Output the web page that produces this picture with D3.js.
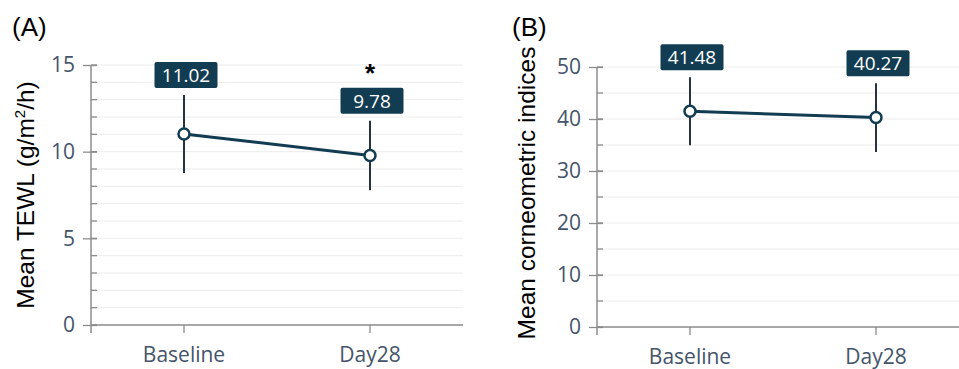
<!DOCTYPE html>
<html>
<head>
<meta charset="utf-8">
<script src="https://cdn.jsdelivr.net/npm/d3@7"></script>
<style>
  body { margin: 0; background: #fff; }
  svg text { font-family: "Open Sans", "Noto Sans", sans-serif; }
</style>
</head>
<body>
<svg id="chart" width="959" height="369"></svg>
<script>
// data
var categories = ["Baseline", "Day28"];
var tewlMean = [11.02, 9.78];
var tewlSd = [2.25, 2.0];
var cornMean = [41.48, 40.27];
var cornSd = [6.55, 6.6];
var tewlTicks = [0, 5, 10, 15];
var cornTicks = [0, 10, 20, 30, 40, 50];

var navy = "#123c52",
  tickText = "#44546a",
  axisGray = "#8c8c8c",
  gridGray = "#ececec";

var svg = d3.select("#chart");

function panel(opt) {
  var g = svg.append("g");

  var x = d3.scaleBand().domain(categories).range([opt.x0, opt.x1]);
  var y = d3.scaleLinear().domain([0, opt.max]).range([opt.yb, opt.yt]);

  // gridlines
  g.selectAll("line.grid")
    .data(d3.range(0, opt.max + 0.001, opt.minor))
    .enter().append("line")
    .attr("x1", opt.x0).attr("x2", opt.x1)
    .attr("y1", function (d) { return y(d); })
    .attr("y2", function (d) { return y(d); })
    .attr("stroke", gridGray).attr("stroke-width", 1);

  // minor ticks (right side of axis)
  g.selectAll("line.minor")
    .data(d3.range(0, opt.max + 0.001, opt.minor))
    .enter().append("line")
    .attr("x1", opt.x0).attr("x2", opt.x0 + 6)
    .attr("y1", function (d) { return y(d); })
    .attr("y2", function (d) { return y(d); })
    .attr("stroke", axisGray).attr("stroke-width", 1.3);

  // y axis
  var yAxis = d3.axisLeft(y).tickValues(opt.ticks).tickSize(8).tickPadding(8);
  var ya = g.append("g").attr("transform", "translate(" + opt.x0 + ",0)").call(yAxis);
  ya.select(".domain").remove();
  ya.selectAll(".tick line").attr("stroke", axisGray).attr("stroke-width", 1.3).attr("x2", -8).attr("x1", 6);
  ya.selectAll(".tick text").attr("fill", tickText).style("font-size", "21px");
  g.append("line")
    .attr("x1", opt.x0).attr("x2", opt.x0)
    .attr("y1", opt.yt).attr("y2", opt.yb + 8)
    .attr("stroke", axisGray).attr("stroke-width", 1.5);

  // x axis
  var xAxis = d3.axisBottom(x).tickSize(8).tickPadding(14);
  var xa = g.append("g").attr("transform", "translate(0," + opt.yb + ")").call(xAxis);
  xa.select(".domain").attr("stroke", axisGray).attr("stroke-width", 1.5).attr("d", "M" + opt.x0 + ",0H" + opt.x1);
  xa.selectAll(".tick line").attr("stroke", axisGray).attr("stroke-width", 1.3);
  xa.selectAll(".tick text").attr("fill", tickText).style("font-size", "21px");

  var pts = categories.map(function (c, i) {
    return { c: c, m: opt.mean[i], sd: opt.sd[i] };
  });
  function cx(d) { return x(d.c) + x.bandwidth() / 2; }

  // error bars
  g.selectAll("line.err").data(pts).enter().append("line")
    .attr("x1", cx).attr("x2", cx)
    .attr("y1", function (d) { return y(d.m - d.sd); })
    .attr("y2", function (d) { return y(d.m + d.sd); })
    .attr("stroke", "#26323f").attr("stroke-width", 2);

  // line
  g.append("path").datum(pts)
    .attr("d", d3.line().x(cx).y(function (d) { return y(d.m); }))
    .attr("fill", "none").attr("stroke", navy).attr("stroke-width", 3);

  // markers
  g.selectAll("circle").data(pts).enter().append("circle")
    .attr("cx", cx).attr("cy", function (d) { return y(d.m); })
    .attr("r", 5.5).attr("fill", "#fff").attr("stroke", navy).attr("stroke-width", 2.5);

  // value labels
  var lab = g.selectAll("g.lab").data(pts).enter().append("g")
    .attr("transform", function (d) {
      return "translate(" + (cx(d) + 2) + "," + (y(d.m + d.sd) - 20) + ")";
    });
  lab.append("rect")
    .attr("x", -31.5).attr("y", -13).attr("width", 63).attr("height", 26)
    .attr("rx", 2).attr("fill", navy);
  lab.append("text")
    .attr("text-anchor", "middle").attr("dy", "0.36em")
    .attr("fill", "#fff").style("font-size", "19px")
    .text(function (d) { return d.m.toFixed(2); });

  // y title
  var t = g.append("text")
    .attr("transform", "translate(" + opt.titleX + "," + opt.titleY + ") rotate(-90)")
    .attr("text-anchor", "middle")
    .style("font-family", "'Liberation Sans', Arial, sans-serif")
    .style("font-size", "24.5px").attr("fill", "#000");
  opt.title(t);

  g.append("text")
    .attr("x", opt.letterX).attr("y", 36)
    .style("font-family", "'Liberation Sans', Arial, sans-serif")
    .style("font-size", "26px").attr("fill", "#000")
    .text(opt.letter);

  return { x: x, y: y, g: g, pts: pts, cx: cx };
}

var a = panel({
  x0: 91, x1: 463, yt: 65, yb: 325, max: 15, minor: 1,
  ticks: tewlTicks, mean: tewlMean, sd: tewlSd,
  titleX: 34, titleY: 195, letter: "(A)", letterX: 12,
  title: function (t) {
    t.append("tspan").text("Mean TEWL (g/m");
    t.append("tspan").attr("dy", -9).style("font-size", "15px").text("2");
    t.append("tspan").attr("dy", 9).text("/h)");
  }
});

// significance mark
a.g.append("text")
  .attr("x", a.cx(a.pts[1])).attr("y", 82)
  .attr("text-anchor", "middle")
  .style("font-family", "'Liberation Sans', Arial, sans-serif")
  .style("font-size", "26px").style("font-weight", "bold")
  .text("*");

panel({
  x0: 597, x1: 969, yt: 67, yb: 327, max: 50, minor: 5,
  ticks: cornTicks, mean: cornMean, sd: cornSd,
  titleX: 535, titleY: 193, letter: "(B)", letterX: 512,
  title: function (t) { t.text("Mean corneometric indices"); }
});
</script>
</body>
</html>
